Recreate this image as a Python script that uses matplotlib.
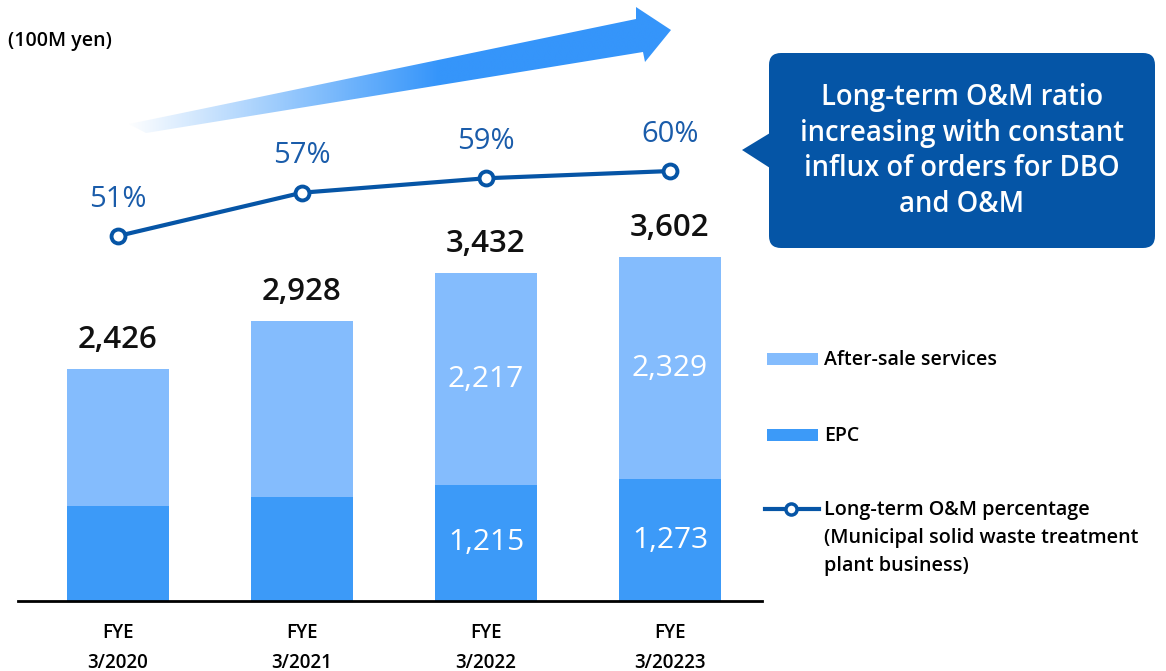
import numpy as np
import matplotlib
matplotlib.use("Agg")
import matplotlib.pyplot as plt
from matplotlib.patches import Polygon, FancyBboxPatch, Rectangle
from matplotlib.lines import Line2D
from matplotlib.colors import LinearSegmentedColormap

plt.rcParams['font.family'] = ['Open Sans', 'DejaVu Sans']

# data (100M yen)
categories = ["FYE\n3/2020", "FYE\n3/2021", "FYE\n3/2022", "FYE\n3/20223"]
epc = [995, 1090, 1215, 1273]
after_sale = [1431, 1838, 2217, 2329]
totals = [2426, 2928, 3432, 3602]
om_pct = [51, 57, 59, 60]
show_inner = [False, False, True, True]

AFTER_C = "#84BCFD"
EPC_C = "#3C9AF8"
NAVY = "#0655A6"
PCT_C = "#1A5CAA"

W, H = 1166, 671
fig = plt.figure(figsize=(W / 100, H / 100), dpi=100)

# main bar axes
ax = fig.add_axes([18 / W, (H - 601) / H, 744 / W, 601 / H])
x = np.arange(len(categories))
ax.bar(x, epc, width=0.555, color=EPC_C)
ax.bar(x, after_sale, bottom=epc, width=0.555, color=AFTER_C)
ax.set_xlim(-0.543, 3.5)
ax.set_ylim(0, 601 / 0.0955)
for s in ["top", "right", "left"]:
    ax.spines[s].set_visible(False)
ax.spines["bottom"].set_linewidth(2)
ax.set_yticks([])
ax.set_xticks(x, categories, fontsize=13.5, fontweight="semibold")
ax.tick_params(axis="x", length=0, pad=16)
for t in ax.get_xticklabels():
    t.set_linespacing(1.65)

for i in range(len(categories)):
    ax.annotate(f"{totals[i]:,}", (x[i], totals[i]), xytext=(0, 29),
                textcoords="offset pixels", ha="center", va="center",
                fontsize=22.5, fontweight="semibold", color="#111111")
    if show_inner[i]:
        ax.text(x[i], epc[i] / 2, f"{epc[i]:,}", ha="center", va="center",
                fontsize=21.5, color="white")
        ax.text(x[i], epc[i] + after_sale[i] / 2, f"{after_sale[i]:,}",
                ha="center", va="center", fontsize=21.5, color="white")

# percentage line
ax2 = ax.twinx()
ax2.set_ylim(0.45, 83.69)
ax2.plot(x, om_pct, color=NAVY, lw=3, marker="o", ms=10,
         mfc="white", mec=NAVY, mew=2.8)
for i, p in enumerate(om_pct):
    ax2.annotate(f"{p}%", (x[i], p), xytext=(0, 37), textcoords="offset pixels",
                 ha="center", va="center", fontsize=21, fontweight=500, color=PCT_C)
ax2.axis("off")

# overlay for decorations
ov = fig.add_axes([0, 0, 1, 1])
ov.set_xlim(0, W)
ov.set_ylim(H, 0)
ov.axis("off")
ov.patch.set_alpha(0)

# gradient arrow
arrow_pts = [(129, 124), (636, 19), (636, 7), (671, 30), (645, 62), (643, 52), (146, 133)]
arrow = Polygon(arrow_pts, closed=True, transform=ov.transData, facecolor="none", edgecolor="none")
ov.add_patch(arrow)
cmap = LinearSegmentedColormap.from_list("grad", ["#FFFFFF", "#3595FA"])
xs = np.linspace(125, 675, 300)
grad = np.clip((xs - 125) / (440 - 125), 0, 1)[None, :]
im = ov.imshow(grad, extent=[125, 675, 140, 0], cmap=cmap, vmin=0, vmax=1,
               aspect="auto", interpolation="bilinear")
im.set_clip_path(arrow)
ov.set_xlim(0, W)
ov.set_ylim(H, 0)

# callout box
box = FancyBboxPatch((769, 53), 386, 195, boxstyle="round,pad=0,rounding_size=12",
                     facecolor="#0555A6", edgecolor="none")
ov.add_patch(box)
ov.add_patch(Polygon([(770, 133), (742, 150), (770, 168)], closed=True,
                     facecolor="#0555A6", edgecolor="none"))
ov.text(962, 151, "Long-term O&M ratio\nincreasing with constant\ninflux of orders for DBO\nand O&M",
        ha="center", va="center", color="white", fontsize=19.8, fontweight="semibold",
        linespacing=1.3)

# legend
ov.add_patch(Rectangle((767, 353), 51, 12, facecolor=AFTER_C, edgecolor="none"))
ov.add_patch(Rectangle((767, 429), 51, 12, facecolor=EPC_C, edgecolor="none"))
ov.add_line(Line2D([765, 819], [509, 509], color=NAVY, lw=3))
ov.add_line(Line2D([791], [509], color=NAVY, marker="o", ms=8, mfc="white", mew=2.5))
ov.text(824, 360, "After-sale services", va="center", fontsize=14, fontweight="semibold")
ov.text(824, 436, "EPC", va="center", fontsize=14, fontweight="semibold")
ov.text(824, 538, "Long-term O&M percentage\n(Municipal solid waste treatment\nplant business)",
        va="center", fontsize=14.2, fontweight="semibold", linespacing=1.5)

ov.text(8, 41, "(100M yen)", va="center", fontsize=14, fontweight="semibold")

fig.savefig("out.png", dpi=100)
